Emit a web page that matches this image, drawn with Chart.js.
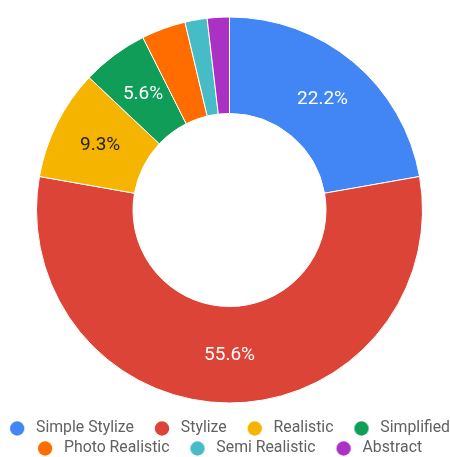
<!DOCTYPE html>
<html>
<head>
<meta charset="utf-8">
<script src="https://cdn.jsdelivr.net/npm/chart.js@4"></script>
<style>
    body { margin: 0; background: #fff; }
    #wrap { width: 450px; height: 457px; }
</style>
</head>
<body>
<div id="wrap"><canvas id="myChart"></canvas></div>
<script>
// responses per style
const labels = ['Simple Stylize', 'Stylize', 'Realistic', 'Simplified', 'Photo Realistic', 'Semi Realistic', 'Abstract'];
const counts = [12, 30, 5, 3, 2, 1, 1];
const colorHex = ['#4285F4', '#DB4437', '#F4B400', '#0F9D58', '#FF6D01', '#46BDC6', '#AB30C4'];
const labelColors = ['#fff', '#fff', '#222', '#fff', '#fff', '#fff', '#fff'];

// legend dot: a small canvas with the circle a bit right of its left edge,
// so the gap between legend items is wider than the gap between rows
function makeDot(color) {
    let c = document.createElement('canvas');
    c.width = 27;
    c.height = 15;
    let g = c.getContext('2d');
    g.fillStyle = color;
    g.beginPath();
    g.arc(16, 7.5, 7.2, 0, Math.PI * 2);
    g.fill();
    return c;
}
let dots = colorHex.map(makeDot);

// the ring sits a little right of the canvas middle; shift it, then
// write the percent labels in the middle of the ring (small slices skipped)
const ringShift = 4.5;
const sliceLabels = {
    id: 'sliceLabels',
    beforeDatasetsDraw(chart) {
        chart.ctx.save();
        chart.ctx.translate(ringShift, 0);
    },
    afterDatasetsDraw(chart) {
        let ctx = chart.ctx;
        let meta = chart.getDatasetMeta(0);
        let total = counts.reduce((a, b) => a + b, 0);
        ctx.font = '19px Roboto';
        ctx.textAlign = 'center';
        ctx.textBaseline = 'middle';
        meta.data.forEach((arc, i) => {
            let percent = counts[i] / total * 100;
            if (percent < 5) return;
            let p = arc.tooltipPosition();
            ctx.fillStyle = labelColors[i];
            ctx.fillText(percent.toFixed(1) + '%', p.x, p.y);
        });
        ctx.restore();
    }
};

let ctx = document.getElementById('myChart').getContext('2d');
let myChart = new Chart(ctx, {
    type: 'doughnut',
    data: {
        labels: labels,
        datasets: [{
            data: counts,
            backgroundColor: colorHex,
            borderColor: '#fff',
            borderWidth: 1,
            radius: 193
        }]
    },
    options: {
        responsive: true,
        maintainAspectRatio: false,
        animation: false,
        cutout: '50%',
        layout: {
            padding: { top: 3.6, left: -30.5, right: -39.5, bottom: -9.4 }
        },
        plugins: {
            tooltip: { enabled: false },
            legend: {
                position: 'bottom',
                labels: {
                    usePointStyle: true,
                    pointStyleWidth: 27,
                    boxHeight: 15,
                    padding: 4.2,
                    color: '#616161',
                    font: { family: 'Roboto', size: 15.8 },
                    generateLabels: (chart) => labels.map((label, i) => ({
                        text: label + '  ',
                        fillStyle: colorHex[i],
                        strokeStyle: colorHex[i],
                        fontColor: '#616161',
                        lineWidth: 0,
                        pointStyle: dots[i],
                        hidden: !chart.getDataVisibility(i),
                        index: i
                    }))
                }
            }
        }
    },
    plugins: [sliceLabels]
});
</script>
</body>
</html>
